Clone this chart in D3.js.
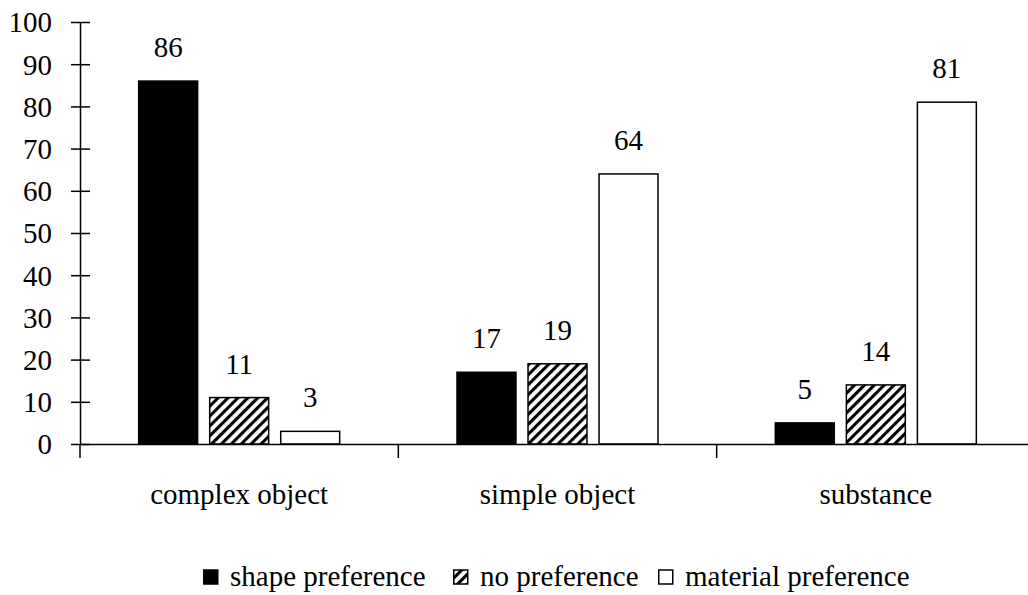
<!DOCTYPE html>
<html lang="en">
<head>
  <meta charset="UTF-8">
  <script src="https://cdnjs.cloudflare.com/ajax/libs/d3/7.8.5/d3.min.js"></script>
  <style>
    body { margin: 0; background: #fff; }
    svg text { font-family: 'Liberation Serif', 'Times New Roman', Times, 'DejaVu Serif', serif; fill: #000; }
  </style>
  <title></title>
</head>
<body>
  <script>
    const categories = ["complex object", "simple object", "substance"];
    const series = ["shape preference", "no preference", "material preference"];
    const shapeValues = [86, 17, 5];
    const noPrefValues = [11, 19, 14];
    const materialValues = [3, 64, 81];
    const yTicks = [0, 10, 20, 30, 40, 50, 60, 70, 80, 90, 100];

    const w = 1028;
    const h = 595;
    const padLeft = 80, padRight = 1035, padTop = 22, padBottom = 444;
    const fontSize = 29;
    const serif = "'Liberation Serif', 'Times New Roman', Times, 'DejaVu Serif', serif";

    const svg = d3.select("body")
      .append("svg")
      .attr("width", w)
      .attr("height", h)
      .attr("font-family", serif);

    const defs = svg.append("defs");
    const pat = defs.append("pattern")
      .attr("id", "hatch")
      .attr("patternUnits", "userSpaceOnUse")
      .attr("width", 7)
      .attr("height", 7)
      .attr("patternTransform", "rotate(45)");
    pat.append("rect").attr("width", 7).attr("height", 7).attr("fill", "#fff");
    pat.append("line")
      .attr("x1", 1.5).attr("y1", 0).attr("x2", 1.5).attr("y2", 7)
      .attr("stroke", "#000").attr("stroke-width", 3.2);

    const fills = ["#000", "url(#hatch)", "#fff"];
    const values = [shapeValues, noPrefValues, materialValues];

    const xScale = d3.scaleBand()
      .domain(categories)
      .range([padLeft, padRight]);

    const xInner = d3.scaleBand()
      .domain(series)
      .range([0, 201])
      .paddingInner(0.17);

    const yScale = d3.scaleLinear()
      .domain([0, 100])
      .range([padBottom, padTop]);

    // y axis with ticks crossing the line
    const yAxis = d3.axisLeft(yScale).tickValues(yTicks).tickSize(0).tickPadding(28);
    const gy = svg.append("g")
      .attr("transform", "translate(" + padLeft + ",0)")
      .call(yAxis)
      .attr("font-family", serif)
      .attr("font-size", fontSize);
    gy.select(".domain").attr("stroke", "#000").attr("stroke-width", 1.5);
    gy.selectAll(".tick text").attr("dy", "0.34em");
    gy.selectAll(".tick")
      .append("line")
      .attr("x1", -9).attr("x2", 10)
      .attr("stroke", "#000").attr("stroke-width", 1.5);
    gy.append("line")
      .attr("x1", 0).attr("x2", 0)
      .attr("y1", padBottom).attr("y2", padBottom + 14)
      .attr("stroke", "#000").attr("stroke-width", 1.5);

    // bars
    series.forEach(function (s, i) {
      svg.append("g")
        .selectAll("rect")
        .data(categories)
        .enter()
        .append("rect")
        .attr("x", d => xScale(d) + (xScale.bandwidth() - 201) / 2 + xInner(s))
        .attr("y", (d, j) => yScale(values[i][j]))
        .attr("width", xInner.bandwidth())
        .attr("height", (d, j) => padBottom - yScale(values[i][j]))
        .attr("fill", fills[i])
        .attr("stroke", "#000")
        .attr("stroke-width", 1.5);

      svg.append("g")
        .selectAll("text")
        .data(categories)
        .enter()
        .append("text")
        .attr("x", d => xScale(d) + (xScale.bandwidth() - 201) / 2 + xInner(s) + xInner.bandwidth() / 2)
        .attr("y", (d, j) => yScale(values[i][j]) - 24)
        .attr("text-anchor", "middle")
        .attr("font-size", fontSize)
        .text((d, j) => values[i][j]);
    });

    // x axis
    const xAxis = d3.axisBottom(xScale).tickSize(0).tickPadding(0).tickFormat("");
    const gx = svg.append("g")
      .attr("transform", "translate(0," + padBottom + ")")
      .call(xAxis);
    gx.select(".domain").attr("stroke", "#000").attr("stroke-width", 1.5);
    gx.selectAll(".tick").remove();
    categories.forEach(function (c, i) {
      if (i > 0) {
        gx.append("line")
          .attr("x1", xScale(c)).attr("x2", xScale(c))
          .attr("y1", 0).attr("y2", 14)
          .attr("stroke", "#000").attr("stroke-width", 1.5);
      }
    });
    svg.append("g")
      .selectAll("text")
      .data(categories)
      .enter()
      .append("text")
      .attr("x", d => xScale(d) + xScale.bandwidth() / 2)
      .attr("y", 504)
      .attr("text-anchor", "middle")
      .attr("font-size", fontSize)
      .text(d => d);

    // legend
    const legendX = [203, 453, 658];
    const legend = svg.append("g");
    series.forEach(function (s, i) {
      legend.append("rect")
        .attr("x", legendX[i] + 0.75)
        .attr("y", 570)
        .attr("width", 14)
        .attr("height", 14)
        .attr("fill", i === 1 ? "url(#hatch)" : fills[i])
        .attr("stroke", "#000")
        .attr("stroke-width", 1.5);
      legend.append("text")
        .attr("x", legendX[i] + 27)
        .attr("y", 586)
        .attr("font-size", fontSize)
        .text(s);
    });
  </script>
</body>
</html>
